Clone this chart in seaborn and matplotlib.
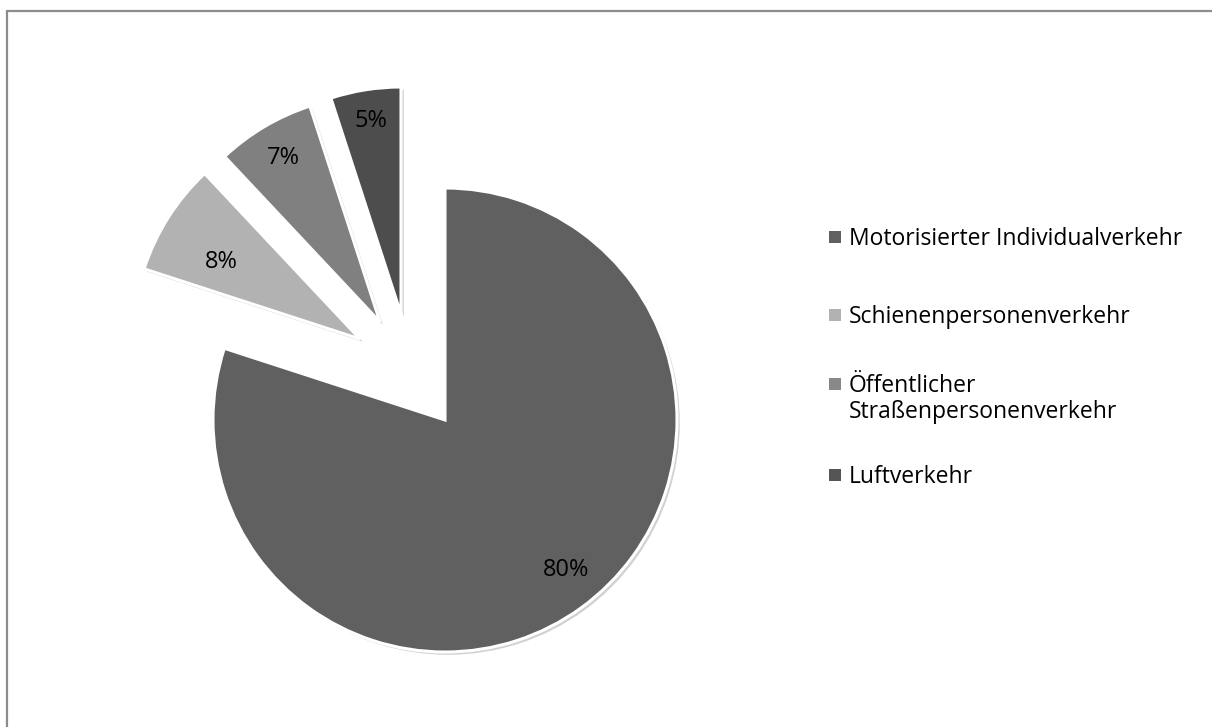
import matplotlib
matplotlib.use("Agg")
import matplotlib.pyplot as plt
import matplotlib.patheffects as pe
from matplotlib.lines import Line2D
from matplotlib.patches import Rectangle
import numpy as np
import seaborn as sns

# ---- data ----
categories = ["Motorisierter Individualverkehr", "Schienenpersonenverkehr",
              "Öffentlicher\nStraßenpersonenverkehr", "Luftverkehr"]
values = [80, 8, 7, 5]
pct_labels = ["80%", "8%", "7%", "5%"]

# ---- style ----
slice_colors = ["#606060", "#b2b2b2", "#808080", "#4d4d4d"]
legend_colors = ["#606060", "#b2b2b2", "#888888", "#555555"]

sns.set_theme(style="white")
plt.rcParams["font.family"] = ["Open Sans", "DejaVu Sans"]

W, H = 1212, 727
fig = plt.figure(figsize=(W / 100, H / 100), dpi=100)
ax = fig.add_axes([0, 0, 1, 1])

cx, cy = 445, H - 420
R_main = 232
R_exp = 227
# layout offsets of the pulled-out slices (pixels, y up)
offsets = [(0, 0), (-85, 81), (-65, 98), (-44, 106)]
label_dist = [0.83, 0.70, 0.84, 0.86]
label_rot = [3, 3.5, 0, 0]

wedges, _ = ax.pie(values, colors=slice_colors, startangle=90, counterclock=False,
                   center=(cx, cy), radius=R_main, frame=True,
                   wedgeprops=dict(edgecolor="white", linewidth=2.2))
ax.set_xlim(0, W)
ax.set_ylim(0, H)
ax.set_aspect("equal")
ax.axis("off")

shadow = [pe.SimplePatchShadow(offset=(2, -2), shadow_rgbFace="#000000", alpha=0.18), pe.Normal()]
for i, w in enumerate(wedges):
    dx, dy = offsets[i]
    ccx, ccy = cx + dx, cy + dy
    r = R_main if i == 0 else R_exp
    w.set_center((ccx, ccy))
    w.set_radius(r)
    w.set_path_effects(shadow)
    mid = np.deg2rad((w.theta1 + w.theta2) / 2 + label_rot[i])
    d = label_dist[i] * r
    ax.text(ccx + d * np.cos(mid), ccy + d * np.sin(mid), pct_labels[i],
            ha="center", va="center", fontsize=17, color="#000000")

# legend (marker aligned with the first text line, as in the original)
leg_first_line_y = [237, 315, 384, 475]  # image pixels, from top
line_h = 26
for c, lab, yy in zip(legend_colors, categories, leg_first_line_y):
    y = H - yy
    n_extra = lab.count("\n")
    ax.add_patch(Rectangle((829, y - 6), 12, 12, facecolor=c, edgecolor="none"))
    ax.text(849, y - 8 - n_extra * line_h, lab, ha="left", va="baseline", fontsize=16.5,
            color="#000000", linespacing=1.09)

# outer chart border (only top and left visible within the image)
border_c = "#8c8c8c"
fig.add_artist(Line2D([6.5 / W, 1.0], [1 - 10.5 / H, 1 - 10.5 / H], transform=fig.transFigure,
                      color=border_c, linewidth=1.6))
fig.add_artist(Line2D([6.5 / W, 6.5 / W], [1 - 10.5 / H, 0.0], transform=fig.transFigure,
                      color=border_c, linewidth=1.6))

fig.savefig("out.png", dpi=100, facecolor="white")
